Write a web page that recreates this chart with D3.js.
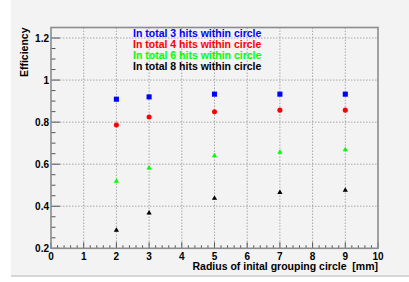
<!DOCTYPE html>
<html>
<head>
<meta charset="utf-8">
<script src="https://cdn.jsdelivr.net/npm/d3@7"></script>
<style>
  body { margin: 0; background: #fff; }
  text { font-family: "Liberation Sans", Arial, sans-serif; font-weight: bold; }
</style>
</head>
<body>
<svg id="chart" width="409" height="282"></svg>
<script>
// radius of grouping circle [mm]
var radius = [2, 3, 5, 7, 9];

var eff3 = [0.909, 0.920, 0.933, 0.933, 0.933];
var eff4 = [0.786, 0.824, 0.849, 0.857, 0.857];
var eff6 = [0.519, 0.582, 0.640, 0.657, 0.669];
var eff8 = [0.286, 0.368, 0.438, 0.465, 0.476];
var errs = [0.012, 0.012, 0.012, 0.012, 0.012];

var legendLabels = ["In total 3 hits within circle", "In total 4 hits within circle",
                    "In total 6 hits within circle", "In total 8 hits within circle"];
var xTicks = [0, 1, 2, 3, 4, 5, 6, 7, 8, 9, 10];
var yTicks = [0.2, 0.4, 0.6, 0.8, 1, 1.2];

var series = [
  {vals: eff3, color: "#0000ff", shape: d3.symbolSquare, size: 26},
  {vals: eff4, color: "#ff0000", shape: d3.symbolCircle, size: 20},
  {vals: eff6, color: "#00ff00", shape: d3.symbolTriangle, size: 12},
  {vals: eff8, color: "#000000", shape: d3.symbolTriangle, size: 12}
];

var svg = d3.select("#chart");
var frameL = 51, frameR = 378, frameT = 27.5, frameB = 248.3;

// canvas background
svg.append("rect").attr("x", 11).attr("y", 0).attr("width", 398).attr("height", 275.5)
  .attr("fill", "#f3f3f3");
svg.append("line").attr("x1", 11).attr("x2", 409).attr("y1", 276).attr("y2", 276)
  .attr("stroke", "#b0b0b0").attr("stroke-width", 1);

var x = d3.scaleLinear().domain([0, 10]).range([frameL, frameR]);
var y = d3.scaleLinear().domain([0.2, 1.25]).range([frameB, frameT]);

// grid
var grid = svg.append("g").attr("stroke", "#a8a8a8").attr("stroke-width", 1)
  .attr("stroke-dasharray", "1.5,1.5");
grid.selectAll(".gx").data(xTicks.slice(1, -1)).enter().append("line")
  .attr("x1", d => x(d)).attr("x2", d => x(d)).attr("y1", frameT).attr("y2", frameB);
grid.selectAll(".gy").data(yTicks.slice(1)).enter().append("line")
  .attr("x1", frameL).attr("x2", frameR).attr("y1", d => y(d)).attr("y2", d => y(d));

// ticks
var minorX = d3.range(0, 10.001, 0.2);
var minorY = d3.range(0.2, 1.2501, 0.05);
var ticks = svg.append("g").attr("stroke", "#555").attr("stroke-width", 1);
ticks.selectAll(".tx").data(minorX).enter().append("line")
  .attr("x1", d => x(d)).attr("x2", d => x(d))
  .attr("y1", frameB).attr("y2", d => frameB - (Math.abs(d - Math.round(d)) < 1e-6 ? 6 : 3));
ticks.selectAll(".ty").data(minorY).enter().append("line")
  .attr("y1", d => y(d)).attr("y2", d => y(d))
  .attr("x1", frameL).attr("x2", d => frameL + (Math.abs(d * 5 - Math.round(d * 5)) < 1e-6 ? 9 : 4.5));

// frame
svg.append("rect").attr("x", frameL).attr("y", frameT)
  .attr("width", frameR - frameL).attr("height", frameB - frameT)
  .attr("fill", "none").attr("stroke", "#8c8c8c").attr("stroke-width", 1.6);

// tick labels
svg.selectAll(".xl").data(xTicks).enter().append("text")
  .attr("x", d => x(d)).attr("y", 259.5).attr("text-anchor", "middle")
  .attr("font-size", 10).text(d => d);
svg.selectAll(".yl").data(yTicks).enter().append("text")
  .attr("x", 49).attr("y", d => y(d)).attr("dy", "0.36em").attr("text-anchor", "end")
  .attr("font-size", 10).text(d => d);

// axis titles
svg.append("text").attr("x", frameR).attr("y", 270).attr("text-anchor", "end")
  .attr("font-size", 10.5).attr("xml:space", "preserve")
  .text("Radius of inital grouping circle  [mm]");
svg.append("text").attr("transform", "translate(28," + frameT + ") rotate(-90)")
  .attr("text-anchor", "end").attr("font-size", 10.5).text("Efficiency");

// error bars and markers
series.forEach(function (s) {
  var g = svg.append("g");
  g.selectAll("line").data(radius).enter().append("line")
    .attr("x1", d => x(d)).attr("x2", d => x(d))
    .attr("y1", (d, i) => y(s.vals[i] - errs[i] / 2))
    .attr("y2", (d, i) => y(s.vals[i] + errs[i] / 2))
    .attr("stroke", "#777").attr("stroke-width", 1);
  g.selectAll("path").data(radius).enter().append("path")
    .attr("transform", (d, i) => "translate(" + x(d) + "," + y(s.vals[i]) + ")")
    .attr("d", d3.symbol().type(s.shape).size(s.size))
    .attr("fill", s.color);
});

// legend
svg.selectAll(".lg").data(legendLabels).enter().append("text")
  .attr("x", 133).attr("y", (d, i) => 36.5 + i * 11)
  .attr("font-size", 10.5).attr("fill", (d, i) => series[i].color)
  .text(d => d);
</script>
</body>
</html>
